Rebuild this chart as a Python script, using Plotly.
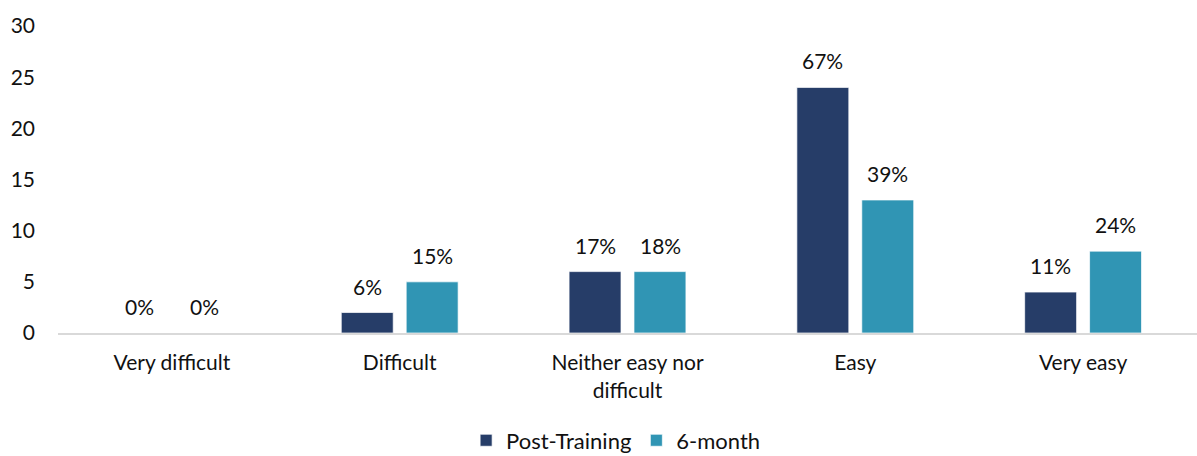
import plotly.graph_objects as go

categories = ["Very difficult", "Difficult", "Neither easy nor<br>difficult", "Easy", "Very easy"]
post_training = [0, 2, 6, 24, 4]
six_month = [0, 5, 6, 13, 8]
post_labels = ["0%", "6%", "17%", "67%", "11%"]
six_labels = ["0%", "15%", "18%", "39%", "24%"]
y_ticks = [0, 5, 10, 15, 20, 25, 30]

NAVY = "#263D68"
TEAL = "#3095B4"
FONT = "Lato, 'Open Sans', sans-serif"

fig = go.Figure()
fig.add_trace(go.Bar(name="Post-Training", x=categories, y=post_training,
                     marker=dict(color=NAVY, line=dict(color="white", width=0.7)),
                     offsetgroup="a"))
fig.add_trace(go.Bar(name="6-month", x=categories, y=six_month,
                     marker=dict(color=TEAL, line=dict(color="white", width=0.7)),
                     offsetgroup="b"))

# value labels placed above bars using data coordinates
annotations = []
for i, c in enumerate(categories):
    for vals, labs, xs in ((post_training, post_labels, -32.5), (six_month, six_labels, 32.5)):
        annotations.append(dict(x=c, y=vals[i], text=labs[i], showarrow=False,
                                xref="x", yref="y", yanchor="bottom", yshift=12,
                                xshift=xs, font=dict(size=21, color="#111111", family=FONT)))

fig.update_layout(
    width=1197, height=456,
    margin=dict(l=58, r=0, t=26, b=123, autoexpand=False),
    plot_bgcolor="white", paper_bgcolor="white",
    barmode="group", bargap=0.43, bargroupgap=0.2,
    font=dict(family=FONT, size=21, color="#111111"),
    showlegend=True,
    legend=dict(orientation="h", x=0.49, xanchor="center", y=-0.35, yanchor="middle",
                font=dict(size=22, family=FONT), itemwidth=30, traceorder="normal"),
    annotations=annotations,
)
fig.update_xaxes(showline=True, linecolor="#D9D9D9", linewidth=2, showgrid=False,
                 ticks="", ticklabelstandoff=10, tickfont=dict(size=21), automargin=False)
fig.update_yaxes(range=[0, 30], tickvals=y_ticks, showgrid=False, zeroline=False,
                 showline=False, ticks="", ticklabelstandoff=22, tickfont=dict(size=21),
                 automargin=False)

fig.write_html("out.html", config={"displayModeBar": False},
               post_script="document.body.style.margin='0';document.body.style.overflow='hidden';")
